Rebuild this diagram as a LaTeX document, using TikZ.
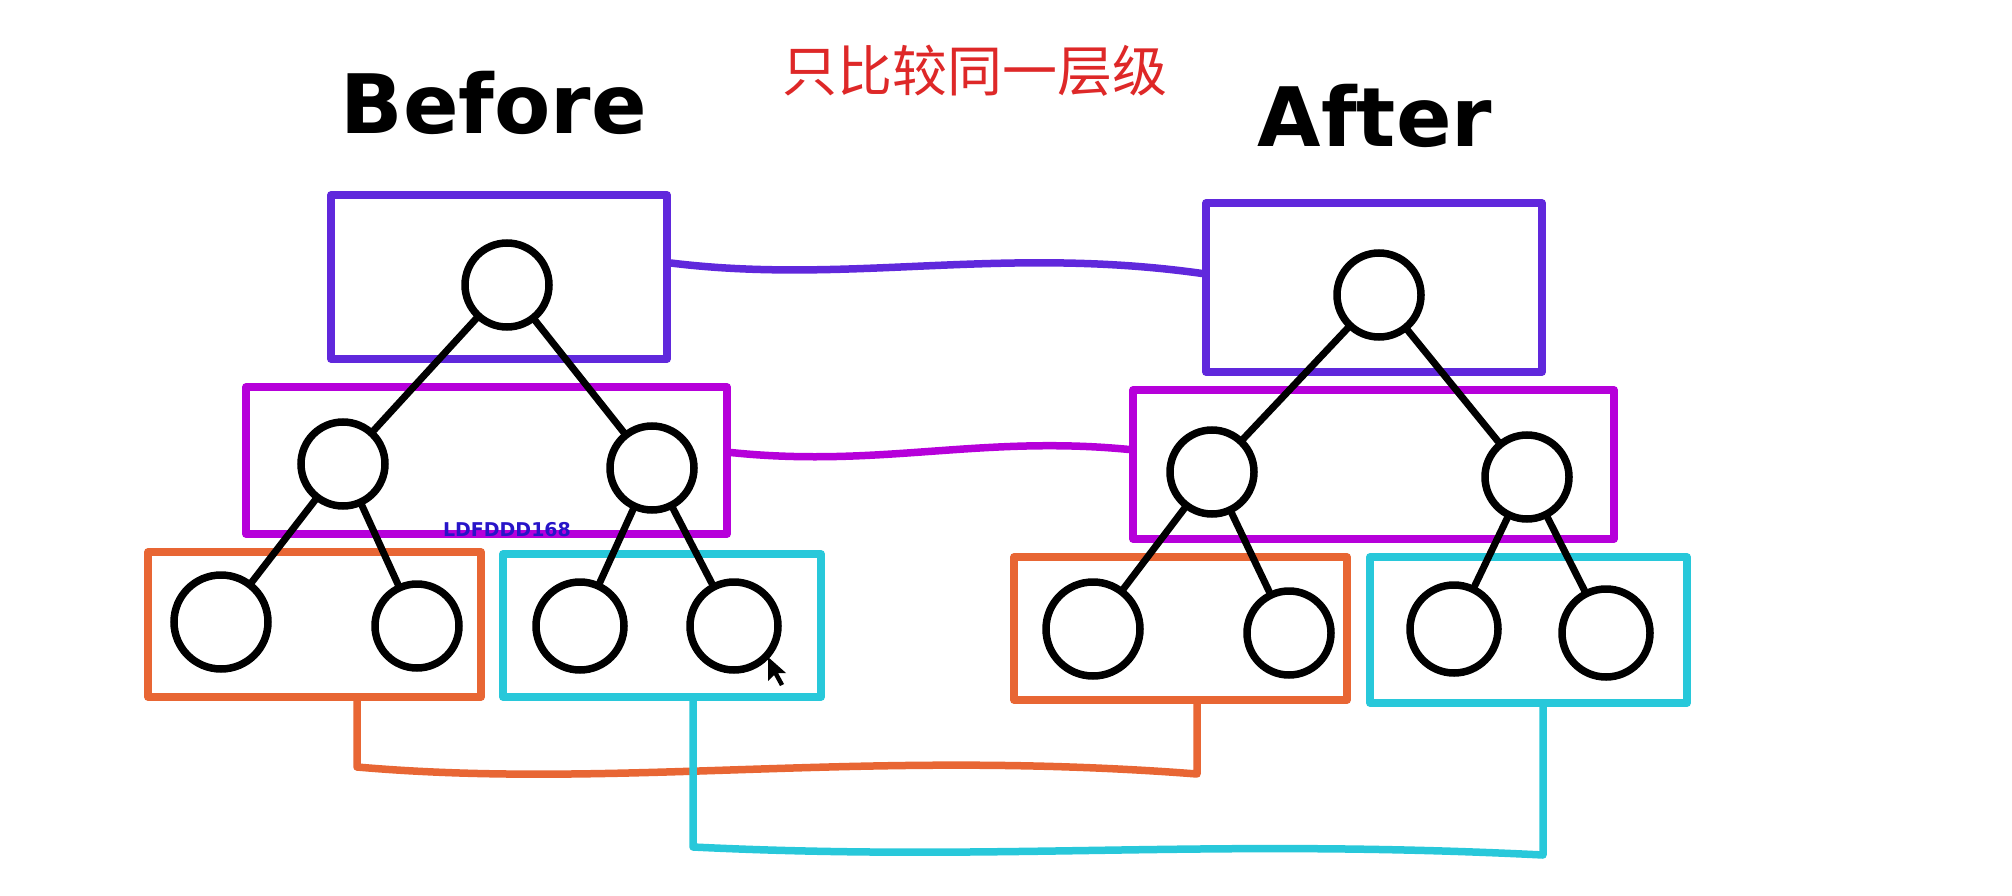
\documentclass[tikz,border=0pt]{standalone}
\usepackage{fontspec}
\setmainfont{DejaVu Sans}
\newfontfamily\cjk{Noto Sans CJK SC}
\definecolor{cviolet}{RGB}{96,40,220}
\definecolor{cmagenta}{RGB}{182,0,218}
\definecolor{corange}{RGB}{232,102,52}
\definecolor{ccyan}{RGB}{40,200,218}
\definecolor{ctitle}{RGB}{222,40,40}
\definecolor{cmark}{RGB}{40,20,200}
\begin{document}
\begin{tikzpicture}[x=1pt,y=-1pt,
  lvlbox/.style={draw,rectangle,line width=7.5pt,inner sep=0pt,line join=round},
  vtx/.style={circle,draw=black,line width=7.5pt,minimum size=84pt,inner sep=0pt},
  bigvtx/.style={vtx,minimum size=94pt},
  tedge/.style={draw=black,line width=7pt,line cap=round},
  link/.style={line width=7.5pt,line join=round,line cap=round},
  hand/.style={font=\bfseries\fontsize{82}{92}\selectfont,inner sep=0pt}]
\useasboundingbox[fill=white] (0,0) rectangle (2012,896);

% titles
\node[hand] (tb) at (494,103) {Before};
\node[hand] (ta) at (1375,116) {After};
\node[font=\cjk\fontsize{55}{62}\selectfont,text=ctitle,inner sep=0pt] (tt) at (975,71) {只比较同一层级};

% level boxes, before
\node[lvlbox,draw=cviolet,minimum width=336pt,minimum height=164pt] (bb) at (499,277) {};
\node[lvlbox,draw=cmagenta,minimum width=481pt,minimum height=147pt] (bm) at (486.5,460.5) {};
\node[lvlbox,draw=corange,minimum width=333pt,minimum height=145pt] (bo) at (314.5,624.5) {};
\node[lvlbox,draw=ccyan,minimum width=318pt,minimum height=143pt] (bc) at (662,625.5) {};
% level boxes, after
\node[lvlbox,draw=cviolet,minimum width=336pt,minimum height=169pt] (ab) at (1374,287.5) {};
\node[lvlbox,draw=cmagenta,minimum width=481pt,minimum height=149pt] (am) at (1373.5,464.5) {};
\node[lvlbox,draw=corange,minimum width=333pt,minimum height=143pt] (ao) at (1180.5,628.5) {};
\node[lvlbox,draw=ccyan,minimum width=317pt,minimum height=146pt] (ac) at (1528.5,630) {};

% connectors between levels
\draw[link,draw=cviolet] ([yshift=14pt]bb.east) .. controls (850,285) and (1000,245) .. ([yshift=14pt]ab.west);
\draw[link,draw=cmagenta] ([yshift=8pt]bm.east) .. controls (880,468) and (980,435) .. ([yshift=15pt]am.west);
\coordinate (o1) at ([xshift=42.5pt]bo.south);
\coordinate (o2) at ([xshift=16.5pt]ao.south);
\coordinate (yo1) at (0,767);
\coordinate (yo2) at (0,774);
\draw[link,draw=corange] (o1) -- (o1 |- yo1) .. controls (620,790) and (860,748) .. (o2 |- yo2) -- (o2);
\coordinate (c1) at ([xshift=31pt]bc.south);
\coordinate (c2) at ([xshift=14.5pt]ac.south);
\coordinate (yc1) at (0,847);
\coordinate (yc2) at (0,855);
\draw[link,draw=ccyan] (c1) -- (c1 |- yc1) .. controls (1000,862) and (1200,838) .. (c2 |- yc2) -- (c2);

% before tree
\node[vtx] (r1) at (507,285) {};
\node[vtx] (l1) at (343,464) {};
\node[vtx] (m1) at (652,468) {};
\node[bigvtx] (p1) at (221,622) {};
\node[vtx] (q1) at (417,626) {};
\node[vtx,minimum size=88pt] (s1) at (580,626) {};
\node[vtx,minimum size=88pt] (t1) at (734,626) {};
\draw[tedge] (r1) -- (l1);
\draw[tedge] (r1) -- (m1);
\draw[tedge] (l1) -- (p1);
\draw[tedge] (l1) -- (q1);
\draw[tedge] (m1) -- (s1);
\draw[tedge] (m1) -- (t1);

% after tree
\node[vtx] (r2) at (1379,295) {};
\node[vtx] (l2) at (1212,472) {};
\node[vtx] (m2) at (1527,477) {};
\node[bigvtx] (p2) at (1093,629) {};
\node[vtx] (q2) at (1289,633) {};
\node[vtx,minimum size=88pt] (s2) at (1454,629) {};
\node[vtx,minimum size=88pt] (t2) at (1606,633) {};
\draw[tedge] (r2) -- (l2);
\draw[tedge] (r2) -- (m2);
\draw[tedge] (l2) -- (p2);
\draw[tedge] (l2) -- (q2);
\draw[tedge] (m2) -- (s2);
\draw[tedge] (m2) -- (t2);

% small mark and cursor
\node[font=\bfseries\fontsize{19}{20}\selectfont,text=cmark,inner sep=0pt] (mk) at (507,530) {LDFDDD168};
\fill[black] (768,657) -- ++(0,24) -- ++(6,-6) -- ++(6,11) -- ++(4,-2) -- ++(-6,-11) -- ++(8,0) -- cycle;
\end{tikzpicture}
\end{document}
